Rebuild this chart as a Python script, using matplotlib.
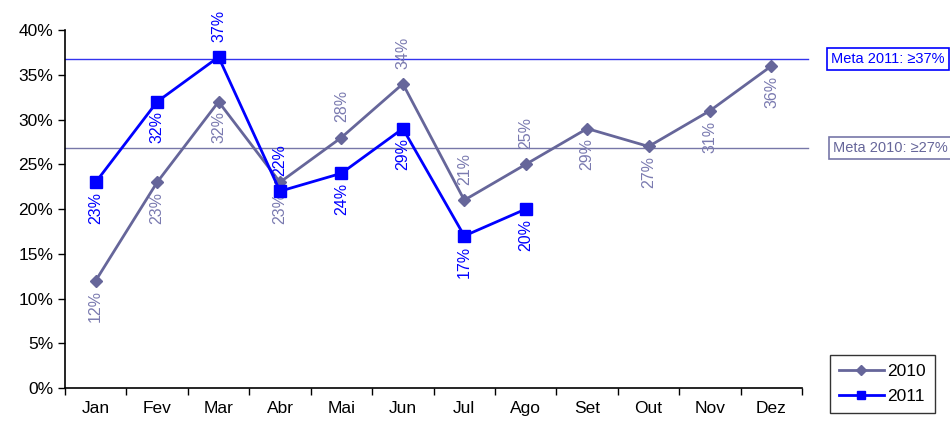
import matplotlib.pyplot as plt
from matplotlib.ticker import FixedLocator, PercentFormatter
from matplotlib.lines import Line2D

plt.rcParams['font.family'] = ['Liberation Sans', 'DejaVu Sans']

months = ['Jan', 'Fev', 'Mar', 'Abr', 'Mai', 'Jun', 'Jul', 'Ago', 'Set', 'Out', 'Nov', 'Dez']
v2010 = [12, 23, 32, 23, 28, 34, 21, 25, 29, 27, 31, 36]
v2011 = [23, 32, 37, 22, 24, 29, 17, 20]
# label placement: 1 = above point, -1 = below point
pos2010 = [-1, -1, -1, -1, 1, 1, 1, 1, -1, -1, -1, -1]
pos2011 = [-1, -1, 1, 1, -1, -1, -1, -1]
meta2010 = 26.8
meta2011 = 36.8

c10 = '#66669a'
c10_lbl = '#7a7ab0'
c11 = '#0000ff'

fig = plt.figure(figsize=(9.5, 4.23), dpi=100)
ax = fig.add_axes([0.0684, 0.0827, 0.776, 0.846])

x10 = range(len(v2010))
x11 = range(len(v2011))
ax.plot(x10, v2010, color=c10, lw=2, marker='D', ms=6, mfc=c10, mec=c10, zorder=3)
ax.plot(x11, v2011, color=c11, lw=2, marker='s', ms=8, mfc=c11, mec=c11, zorder=4)

# meta lines
ax.plot([-0.5, 11.6], [meta2011, meta2011], color='#3333ee', lw=1, clip_on=False, zorder=2)
ax.plot([-0.5, 11.6], [meta2010, meta2010], color='#7777a8', lw=1, clip_on=False, zorder=2)


def label(i, v, p, color):
    off = 11 if p > 0 else -7
    ax.annotate(f'{v}%', (i, v), xytext=(0, off), textcoords='offset points',
                rotation=90, ha='center', va='bottom' if p > 0 else 'top',
                color=color, fontsize=11.5)


for i, (v, p) in enumerate(zip(v2010, pos2010)):
    label(i, v, p, c10_lbl)
for i, (v, p) in enumerate(zip(v2011, pos2011)):
    label(i, v, p, c11)

ax.set_xlim(-0.5, 11.5)
ax.set_ylim(0, 40)
ax.set_yticks(range(0, 41, 5))
ax.yaxis.set_major_formatter(PercentFormatter(decimals=0))
ax.set_xticks(range(12))
ax.set_xticklabels(months)
ax.xaxis.set_minor_locator(FixedLocator([i - 0.5 for i in range(13)]))
ax.tick_params(axis='x', which='major', length=0, pad=9, labelsize=12.5)
ax.tick_params(axis='x', which='minor', length=5, width=1)
ax.tick_params(axis='y', length=5, width=1, labelsize=12.5)
for s in ['top', 'right']:
    ax.spines[s].set_visible(False)
ax.spines['left'].set_linewidth(1.2)
ax.spines['bottom'].set_linewidth(1.2)

# meta boxes
fig.text(0.875, 1 - 59 / 423, 'Meta 2011: \u226537%', color=c11, fontsize=10.5,
         va='center', ha='left',
         bbox=dict(boxstyle='square,pad=0.3', fc='white', ec=c11, lw=1.2))
fig.text(0.877, 1 - 148 / 423, 'Meta 2010: \u226527%', color='#66669a', fontsize=10.5,
         va='center', ha='left',
         bbox=dict(boxstyle='square,pad=0.3', fc='white', ec='#7777a8', lw=1.2))

handles = [Line2D([], [], color=c10, lw=2, marker='D', ms=5),
           Line2D([], [], color=c11, lw=2, marker='s', ms=6)]
fig.legend(handles, ['2010', '2011'], loc='lower right', bbox_to_anchor=(0.984, 0.024),
           frameon=True, fancybox=False, edgecolor='black', fontsize=12.5,
           handlelength=2.6, handletextpad=0.2, borderpad=0.5, labelspacing=0.6,
           borderaxespad=0)

fig.savefig('out.png', dpi=100)
